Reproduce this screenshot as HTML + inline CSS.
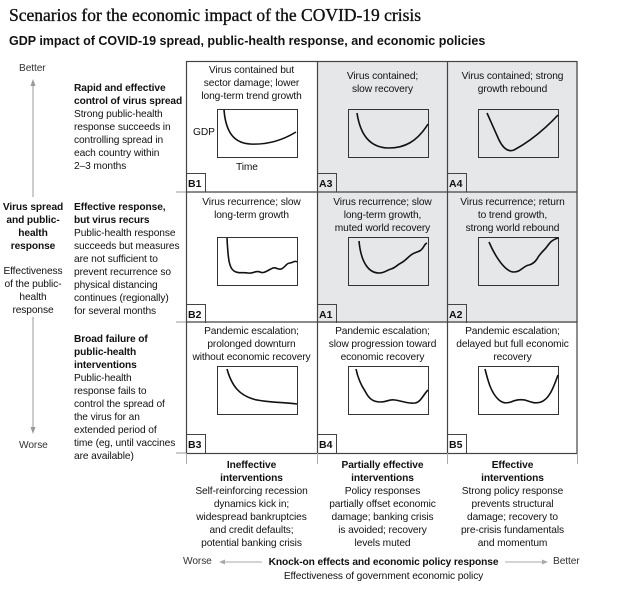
<!DOCTYPE html>
<html><head><meta charset="utf-8"><style>
body{margin:0;width:620px;height:596px;background:#fff;position:relative;overflow:hidden;font-family:"Liberation Sans",Arial,sans-serif;color:#111}
.a{position:absolute;white-space:nowrap}
.t{font-size:10.2px;line-height:13px;letter-spacing:-0.1px}
.c{text-align:center}
b{font-weight:bold}
.cell{position:absolute;width:131px;height:131px;box-sizing:border-box}
.g{background:#e6e7e9}
.ct{position:absolute;left:0;width:131px;text-align:center;font-size:10.2px;line-height:13px;white-space:nowrap;letter-spacing:-0.1px}
.lb{position:absolute;left:0;bottom:0;width:20px;height:19px;border-top:1px solid #444;border-right:1px solid #444;font-weight:bold;font-size:10.5px;line-height:20px;padding-left:2px;box-sizing:border-box}
.box{position:absolute;left:31px;width:79px;height:47px;border:1px solid #333;background:transparent;overflow:visible}
</style></head><body>
<div class="a" style="left:9px;top:5px;font-family:'Liberation Serif',serif;font-size:17.5px;-webkit-text-stroke:0.35px #111">Scenarios for the economic impact of the COVID-19 crisis</div>
<div class="a" style="left:9px;top:34px;font-size:12.5px;font-weight:bold">GDP impact of COVID-19 spread, public-health response, and economic policies</div>

<div class="a t" style="left:19px;top:62px;color:#333">Better</div>
<div class="a t" style="left:19px;top:439px;color:#333">Worse</div>
<svg class="a" style="left:0;top:0" width="186" height="460">
<line x1="33" y1="82" x2="33" y2="197" stroke="#999" stroke-width="1"/>
<polygon points="33,79 30.5,86 35.5,86" fill="#999"/>
<line x1="33" y1="317" x2="33" y2="430" stroke="#999" stroke-width="1"/>
<polygon points="33,434 30.5,427 35.5,427" fill="#999"/>
<line x1="176" y1="192" x2="186" y2="192" stroke="#999"/>
<line x1="176" y1="322" x2="186" y2="322" stroke="#999"/>
<line x1="176" y1="453" x2="186" y2="453" stroke="#999"/>
</svg>
<div class="a t c" style="left:0;width:66px;top:201px;font-weight:bold">Virus spread<br>and public-<br>health<br>response</div>
<div class="a t c" style="left:0;width:66px;top:265px">Effectiveness<br>of the public-<br>health<br>response</div>

<div class="a t" style="left:74px;top:82px"><b>Rapid and effective<br>control of virus spread</b><br>Strong public-health<br>response succeeds in<br>controlling spread in<br>each country within<br>2–3 months</div>
<div class="a t" style="left:74px;top:201px"><b>Effective response,<br>but virus recurs</b><br>Public-health response<br>succeeds but measures<br>are not sufficient to<br>prevent recurrence so<br>physical distancing<br>continues (regionally)<br>for several months</div>
<div class="a t" style="left:74px;top:333px"><b>Broad failure of<br>public-health<br>interventions</b><br>Public-health<br>response fails to<br>control the spread of<br>the virus for an<br>extended period of<br>time (eg, until vaccines<br>are available)</div>

<div class="cell" style="left:186px;top:61px">
 <div class="ct" style="top:3px">Virus contained but<br>sector damage; lower<br>long-term trend growth</div>
 <div class="box" style="top:48px"><svg width="79" height="47" style="overflow:visible"><path d="M6,0 C8,25 18,33 32,34 C50,35 65,30 78,22" fill="none" stroke="#111" stroke-width="1.6"/></svg></div>
 <div class="a t" style="left:7px;top:65px">GDP</div>
 <div class="a t" style="left:50px;top:100px">Time</div>
 <div class="lb">B1</div></div>
<div class="cell g" style="left:317px;top:61px">
 <div class="ct" style="top:9px">Virus contained;<br>slow recovery</div>
 <div class="box" style="top:48px"><svg width="79" height="47" style="overflow:visible"><path d="M8,3 C12,30 25,38 40,38 C55,38 68,32 79,14" fill="none" stroke="#111" stroke-width="1.6"/></svg></div>
 <div class="lb">A3</div></div>
<div class="cell g" style="left:447px;top:61px">
 <div class="ct" style="top:9px">Virus contained; strong<br>growth rebound</div>
 <div class="box" style="top:48px"><svg width="79" height="47" style="overflow:visible"><path d="M8,3 L20,30 C25,40 30,42 35,40 C50,32 65,20 79,5" fill="none" stroke="#111" stroke-width="1.6"/></svg></div>
 <div class="lb">A4</div></div>

<div class="cell" style="left:186px;top:192px">
 <div class="ct" style="top:4px">Virus recurrence; slow<br>long-term growth</div>
 <div class="box" style="top:45px"><svg width="79" height="47" style="overflow:visible"><path d="M9,0 C10,20 11,30 16,33 C20,36 25,34 30,35 C35,36 38,32 42,34 C46,36 50,32 55,30 C58,29 60,32 63,31 C67,30 68,25 72,25 C75,25 76,22 79,24" fill="none" stroke="#111" stroke-width="1.6"/></svg></div>
 <div class="lb">B2</div></div>
<div class="cell g" style="left:317px;top:192px">
 <div class="ct" style="top:4px">Virus recurrence; slow<br>long-term growth,<br>muted world recovery</div>
 <div class="box" style="top:45px"><svg width="79" height="47" style="overflow:visible"><path d="M10,3 C12,25 20,35 30,35 C36,35 38,32 42,31 C46,30 48,27 52,25 C56,23 58,20 62,17 C66,14 70,14 72,12 C75,10 75,6 78,5" fill="none" stroke="#111" stroke-width="1.6"/></svg></div>
 <div class="lb">A1</div></div>
<div class="cell g" style="left:447px;top:192px">
 <div class="ct" style="top:4px">Virus recurrence; return<br>to trend growth,<br>strong world rebound</div>
 <div class="box" style="top:45px"><svg width="79" height="47" style="overflow:visible"><path d="M10,4 C16,18 26,34 35,34 C42,34 44,28 50,27 C54,26 56,24 58,21 C60,17 63,14 66,11 C70,7 70,3 79,0" fill="none" stroke="#111" stroke-width="1.6"/></svg></div>
 <div class="lb">A2</div></div>

<div class="cell" style="left:186px;top:322px">
 <div class="ct" style="top:3px">Pandemic escalation;<br>prolonged downturn<br>without economic recovery</div>
 <div class="box" style="top:44px"><svg width="79" height="47" style="overflow:visible"><path d="M9,2 C14,20 22,28 35,32 C45,35 60,35 79,37" fill="none" stroke="#111" stroke-width="1.6"/></svg></div>
 <div class="lb">B3</div></div>
<div class="cell" style="left:317px;top:322px">
 <div class="ct" style="top:3px">Pandemic escalation;<br>slow progression toward<br>economic recovery</div>
 <div class="box" style="top:44px"><svg width="79" height="47" style="overflow:visible"><path d="M7,2 C9,12 12,18 16,24 C20,32 24,35 32,35 C38,35 40,32 46,33 C54,34 58,37 66,36 C72,35 74,28 79,23" fill="none" stroke="#111" stroke-width="1.6"/></svg></div>
 <div class="lb">B4</div></div>
<div class="cell" style="left:447px;top:322px">
 <div class="ct" style="top:3px">Pandemic escalation;<br>delayed but full economic<br>recovery</div>
 <div class="box" style="top:44px"><svg width="79" height="47" style="overflow:visible"><path d="M6,2 C9,14 12,26 20,33 C25,37 28,36 32,35 C36,33 40,32 46,33 C52,35 56,37 62,35 C70,32 74,22 79,8" fill="none" stroke="#111" stroke-width="1.6"/></svg></div>
 <div class="lb">B5</div></div>

<svg class="a" style="left:0;top:0" width="620" height="596">
<g stroke="#444" stroke-width="1.2" fill="none">
<rect x="186.5" y="61.5" width="390.5" height="392"/>
<line x1="317.5" y1="61" x2="317.5" y2="453"/>
<line x1="447.5" y1="61" x2="447.5" y2="453"/>
<line x1="186" y1="192" x2="577" y2="192"/>
<line x1="186" y1="322" x2="577" y2="322"/>
</g>
<g stroke="#aaa" stroke-width="1">
<line x1="186.5" y1="453" x2="186.5" y2="464"/>
<line x1="317.5" y1="453" x2="317.5" y2="464"/>
<line x1="447.5" y1="453" x2="447.5" y2="464"/>
<line x1="577.5" y1="453" x2="577.5" y2="464"/>
<line x1="222" y1="562" x2="262" y2="562"/>
<line x1="505" y1="562" x2="545" y2="562"/>
</g>
<polygon points="219,562 225,559.5 225,564.5" fill="#aaa"/>
<polygon points="548,562 542,559.5 542,564.5" fill="#aaa"/>
</svg>

<div class="a t c" style="left:186px;width:131px;top:459px"><b>Ineffective<br>interventions</b><br>Self-reinforcing recession<br>dynamics kick in;<br>widespread bankruptcies<br>and credit defaults;<br>potential banking crisis</div>
<div class="a t c" style="left:317px;width:131px;top:459px"><b>Partially effective<br>interventions</b><br>Policy responses<br>partially offset economic<br>damage; banking crisis<br>is avoided; recovery<br>levels muted</div>
<div class="a t c" style="left:447px;width:131px;top:459px"><b>Effective<br>interventions</b><br>Strong policy response<br>prevents structural<br>damage; recovery to<br>pre-crisis fundamentals<br>and momentum</div>
<div class="a t" style="left:183px;top:555px;color:#333">Worse</div>
<div class="a t" style="left:553px;top:555px;color:#333">Better</div>
<div class="a t c" style="left:262px;width:243px;top:556px;font-weight:bold">Knock-on effects and economic policy response</div>
<div class="a t c" style="left:262px;width:243px;top:570px">Effectiveness of government economic policy</div>
</body></html>
